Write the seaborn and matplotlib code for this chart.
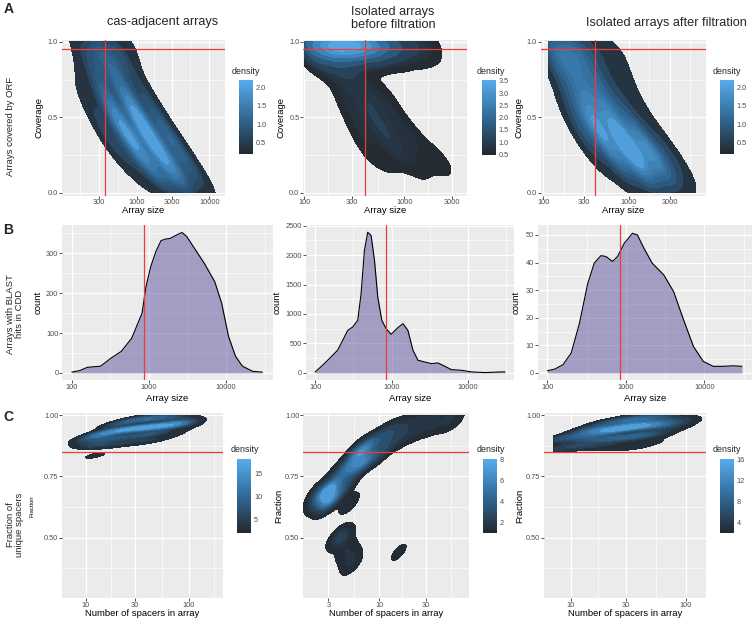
import numpy as np
import matplotlib
matplotlib.use("Agg")
import matplotlib.pyplot as plt
import matplotlib.colorbar as mcolorbar
from matplotlib.colors import LinearSegmentedColormap, Normalize
from matplotlib.ticker import FixedLocator, NullFormatter
import seaborn as sns

sns.set_theme(style="darkgrid")
plt.rcParams["font.family"] = ["Liberation Sans", "DejaVu Sans"]

# ---- row A: anchor points (log10 array size, coverage, weight)
a1_logsize = [2.22, 2.44, 2.67, 2.89, 2.27, 2.47, 2.67, 2.87, 2.27, 2.49, 2.73, 2.95,
              2.27, 2.54, 2.81, 3.08, 2.36, 2.63, 2.92, 3.19, 2.47, 2.74, 3.03, 3.30,
              2.60, 2.88, 3.16, 3.44, 2.73, 3.01, 3.30, 3.58, 2.92, 3.19, 3.46, 3.73,
              3.11, 3.36, 3.61, 3.86, 3.34, 3.56, 3.78, 4.00]
a1_cov = [0.98] * 4 + [0.88] * 4 + [0.78] * 4 + [0.68] * 4 + [0.58] * 4 + [0.48] * 4 + \
         [0.38] * 4 + [0.28] * 4 + [0.18] * 4 + [0.09] * 4 + [0.02] * 4
a1_w = [0.6, 1.0, 0.9, 0.5, 0.4, 0.7, 0.7, 0.4, 0.4, 0.7, 0.8, 0.4,
        0.35, 0.8, 0.9, 0.5, 0.4, 1.0, 1.3, 0.6, 0.5, 1.4, 1.6, 0.8,
        0.6, 1.5, 1.7, 0.9, 0.6, 1.4, 1.6, 0.9, 0.5, 1.2, 1.3, 0.7,
        0.4, 0.9, 0.9, 0.5, 0.2, 0.5, 0.5, 0.3]

a2_logsize = [2.05, 2.2, 2.35, 2.5, 2.65, 2.8, 2.95, 3.1, 3.25,
              2.1, 2.3, 2.5, 2.7, 2.9, 3.1, 3.25,
              2.2, 2.4,
              2.38, 2.55, 2.42, 2.6, 2.76, 2.48, 2.66, 2.85, 2.55, 2.75, 2.95,
              2.62, 2.85, 3.08, 2.7, 2.97, 3.25, 2.85, 3.15, 3.4]
a2_cov = [0.985] * 9 + [0.92] * 7 + [0.85] * 2 + [0.75] * 2 + [0.65] * 3 + [0.55] * 3 + \
         [0.45] * 3 + [0.35] * 3 + [0.25] * 3 + [0.17] * 3
a2_w = [1.8, 2.8, 3.4, 3.4, 2.8, 1.8, 1.0, 0.5, 0.3,
        0.8, 1.0, 0.9, 0.6, 0.4, 0.25, 0.15,
        0.45, 0.45,
        0.35, 0.35, 0.3, 0.4, 0.3, 0.3, 0.45, 0.3, 0.3, 0.5, 0.35,
        0.3, 0.5, 0.35, 0.22, 0.45, 0.3, 0.15, 0.3, 0.2]

a3_logsize = [2.12, 2.32, 2.52, 2.72, 2.90, 2.12, 2.32, 2.52, 2.72, 2.92,
              2.20, 2.40, 2.60, 2.80, 3.00, 2.27, 2.47, 2.67, 2.87, 3.07,
              2.32, 2.52, 2.72, 2.92, 3.12, 2.38, 2.58, 2.80, 3.00, 3.20,
              2.47, 2.68, 2.90, 3.12, 3.33, 2.58, 2.80, 3.02, 3.24, 3.45,
              2.70, 2.92, 3.14, 3.36, 3.56, 2.95, 3.15, 3.35, 3.55, 3.72,
              3.05, 3.30, 3.55]
a3_cov = [0.98] * 5 + [0.88] * 5 + [0.78] * 5 + [0.68] * 5 + [0.58] * 5 + [0.48] * 5 + \
         [0.38] * 5 + [0.28] * 5 + [0.18] * 5 + [0.08] * 5 + [0.02] * 3
a3_w = [1.3, 1.4, 0.9, 0.4, 0.25, 0.9, 0.9, 0.6, 0.3, 0.2,
        0.6, 0.8, 0.7, 0.3, 0.2, 0.5, 0.9, 0.8, 0.4, 0.2,
        0.6, 1.1, 0.9, 0.5, 0.25, 0.6, 1.3, 1.1, 0.7, 0.3,
        0.6, 1.2, 1.4, 1.0, 0.4, 0.5, 1.1, 1.7, 1.3, 0.5,
        0.4, 0.9, 1.3, 1.1, 0.5, 0.3, 0.6, 0.8, 0.6, 0.3,
        0.2, 0.3, 0.2]

a_size_cut = [365, 405, 405]
a_cov_cut = 0.95

# ---- row B: count density of array size for arrays with BLAST hits
b1_size = [100, 127, 158, 236, 321, 437, 597, 813, 912, 1047, 1230, 1435, 1660, 1862,
           2138, 2512, 2692, 3090, 4027, 5212, 7112, 8750, 10740, 13213, 16255, 22130, 29512]
b1_count = [2, 6, 14, 17, 37, 54, 87, 150, 215, 265, 305, 332, 336, 337,
            343, 350, 352, 342, 308, 275, 229, 175, 92, 42, 17, 4, 2]

b2_size = [100, 125, 161, 196, 229, 266, 309, 360, 398, 440, 486, 538, 596, 658, 743,
           847, 984, 1205, 1403, 1629, 1897, 2208, 2698, 3304, 4036, 4943, 6039, 8166,
           11066, 16558, 27416, 30200]
b2_count = [17, 130, 271, 384, 553, 722, 779, 892, 1343, 2077, 2387, 2331, 1907, 1287, 892,
            751, 655, 768, 835, 722, 384, 214, 186, 158, 169, 113, 56, 45,
            17, 6, 17, 17]

b3_size = [100, 124, 158, 201, 256, 327, 396, 481, 556, 676, 783, 955, 1213, 1403,
           1698, 2163, 3048, 4055, 5433, 7261, 9705, 13002, 17378, 23227, 30200]
b3_count = [0.8, 1.4, 3, 7.2, 18, 32.5, 39.8, 42.5, 42.2, 40.4, 42.2, 47, 50.6, 50,
            45.2, 39.8, 35.5, 29.5, 19.3, 9.6, 4.2, 2.4, 2.4, 2.6, 2.4]

b_size_cut = 850

# ---- row C: anchor points (log10 number of spacers, fraction unique, weight)
c1_logn = [0.97, 0.97, 1.05, 1.05, 1.14, 1.14, 1.14, 1.24, 1.24, 1.24, 1.24,
           1.36, 1.36, 1.36, 1.36, 1.48, 1.48, 1.48, 1.48, 1.6, 1.6, 1.6, 1.6,
           1.72, 1.72, 1.72, 1.72, 1.84, 1.84, 1.84, 1.94, 1.94, 1.94, 2.03, 2.03, 1.09]
c1_frac = [0.885, 0.9, 0.88, 0.91, 0.88, 0.905, 0.925, 0.88, 0.905, 0.93, 0.955,
           0.885, 0.91, 0.94, 0.97, 0.89, 0.915, 0.945, 0.98, 0.895, 0.92, 0.95, 0.985,
           0.905, 0.93, 0.955, 0.99, 0.92, 0.96, 0.99, 0.94, 0.965, 0.985, 0.96, 0.975, 0.835]
c1_w = [0.35, 0.3, 0.5, 0.7, 0.5, 0.6, 0.9, 0.4, 0.6, 1.1, 0.5,
        0.35, 0.6, 1.4, 0.7, 0.3, 0.6, 1.6, 0.8, 0.3, 0.6, 1.7, 0.9,
        0.3, 0.6, 1.6, 0.9, 0.25, 1.3, 0.8, 0.2, 0.9, 0.5, 0.25, 0.3, 0.3]

c2_logn = [0.38, 0.38, 0.47, 0.47, 0.56, 0.56, 0.58, 0.69, 0.67, 0.67, 0.76, 0.76,
           0.86, 0.86, 0.98, 0.98, 1.1, 1.1, 1.25, 1.25, 1.4, 1.4, 1.55, 1.55, 1.7, 1.7, 1.8,
           0.58, 0.63, 0.66, 0.70, 0.72, 1.2]
c2_frac = [0.655, 0.685, 0.65, 0.69, 0.67, 0.72, 0.77, 0.64, 0.72, 0.78, 0.79, 0.84,
           0.815, 0.865, 0.84, 0.90, 0.88, 0.925, 0.91, 0.955, 0.935, 0.975, 0.955, 0.99, 0.97, 0.99, 0.98,
           0.505, 0.495, 0.45, 0.42, 0.39, 0.44]
c2_w = [0.5, 0.5, 1.3, 1.3, 0.6, 0.6, 0.35, 0.2, 0.45, 0.7, 0.8, 1.0,
        1.0, 1.0, 0.5, 0.5, 0.4, 0.55, 0.25, 0.3, 0.2, 0.25, 0.18, 0.2, 0.15, 0.15, 0.1,
        0.3, 0.3, 0.2, 0.2, 0.18, 0.12]

c3_logn = [0.88, 0.88, 1.0, 1.0, 1.12, 1.12, 1.12, 1.24, 1.24, 1.24, 1.24,
           1.36, 1.36, 1.36, 1.36, 1.48, 1.48, 1.48, 1.48, 1.6, 1.6, 1.6, 1.6,
           1.72, 1.72, 1.72, 1.72, 1.84, 1.84, 1.84, 1.96, 1.96, 2.06]
c3_frac = [0.865, 0.9, 0.87, 0.91, 0.875, 0.905, 0.935, 0.875, 0.905, 0.935, 0.96,
           0.87, 0.905, 0.94, 0.97, 0.87, 0.91, 0.95, 0.98, 0.875, 0.915, 0.955, 0.985,
           0.89, 0.925, 0.96, 0.99, 0.92, 0.96, 0.99, 0.95, 0.98, 0.975]
c3_w = [0.5, 0.6, 0.5, 0.8, 0.45, 0.8, 0.9, 0.4, 0.8, 1.2, 0.5,
        0.35, 0.8, 1.5, 0.7, 0.3, 0.8, 1.6, 0.8, 0.3, 0.8, 1.5, 0.9,
        0.25, 0.7, 1.2, 0.8, 0.2, 0.9, 0.6, 0.3, 0.5, 0.2]

c_frac_cut = 0.85

W, H = 753, 621
fig = plt.figure(figsize=(W / 100, H / 100), dpi=100)
dens_cmap = LinearSegmentedColormap.from_list("dens", ["#23272d", "#306a98", "#58acec"])
RED = "#EE3B35"
TXT = 6.8
TICK = 5.3


def box(x0, y0, x1, y1):
    return [x0 / W, 1 - y1 / H, (x1 - x0) / W, (y1 - y0) / H]


def minor_breaks(b, lo, hi):
    b = list(b)
    bd = b[1] - b[0]
    if lo < b[0]:
        b = [b[0] - bd] + b
    if hi > b[-1]:
        b = b + [b[-1] + bd]
    mids = [(p + q) / 2 for p, q in zip(b[:-1], b[1:])]
    return [m for m in mids if lo <= m <= hi]


def style(ax, xlim, xt, yl, yt, ytl):
    ax.set_facecolor("#EBEBEB")
    for s in ax.spines.values():
        s.set_visible(False)
    ax.set_xscale("log")
    ax.set_xlim(10 ** xlim[0], 10 ** xlim[1])
    ax.set_ylim(*yl)
    ax.xaxis.set_major_locator(FixedLocator(xt))
    ax.set_xticklabels([str(v) for v in xt])
    ax.xaxis.set_minor_locator(FixedLocator([10 ** m for m in minor_breaks(np.log10(xt), *xlim)]))
    ax.xaxis.set_minor_formatter(NullFormatter())
    ax.yaxis.set_major_locator(FixedLocator(yt))
    ax.set_yticklabels(ytl)
    ax.yaxis.set_minor_locator(FixedLocator(minor_breaks(yt, *yl)))
    ax.grid(True, which="major", color="white", lw=0.9)
    ax.grid(True, which="minor", color="white", lw=0.45)
    ax.tick_params(which="major", length=2, width=0.6, color="#333333",
                   labelsize=TICK, labelcolor="#4D4D4D", pad=0.8, bottom=True, left=True)
    ax.tick_params(which="minor", length=0)
    ax.set_axisbelow(True)


def labels(ax, px, xlab, ylab, ylab_x, xlab_y, ysize=TXT):
    x0, y0, x1, y1 = px
    ax.set_xlabel(xlab, fontsize=TXT, color="black")
    ax.set_ylabel(ylab, fontsize=ysize, color="black")
    ax.xaxis.set_label_coords(0.5, (y1 - xlab_y) / (y1 - y0))
    ax.yaxis.set_label_coords((ylab_x - x0) / (x1 - x0), 0.5)


def cbar(px, lo, hi, ticks, tl, title_x, title_y):
    cax = fig.add_axes(box(*px))
    cb = mcolorbar.Colorbar(cax, cmap=dens_cmap, norm=Normalize(lo, hi))
    cb.outline.set_visible(False)
    cb.set_ticks(ticks, labels=tl)
    cax.tick_params(axis="y", direction="in", length=2.5, width=0.6, color="white",
                    left=True, right=True, labelsize=TICK, labelcolor="#4D4D4D", pad=2)
    fig.text(title_x / W, 1 - title_y / H, "density", fontsize=6.4, ha="left", va="center")


def density(ax, logx, y, w, bw, clip_x, clip_y, thresh=0.03, levels=10):
    x = np.power(10.0, logx)
    sns.kdeplot(x=x, y=y, weights=w, fill=True, levels=levels, thresh=thresh,
                cmap=dens_cmap, bw_method=bw, log_scale=(True, False),
                clip=(clip_x, clip_y), gridsize=200, ax=ax)


# ---------------- row A
a_px = [(61.7, 40, 225, 195.5), (303.3, 40, 467.3, 195.5), (540.7, 40, 705.7, 195.5)]
a_xlim = [(1.956, 4.217), (1.99, 3.63), (1.97, 3.90)]
a_xt = [[300, 1000, 3000, 10000], [100, 300, 1000, 3000], [100, 300, 1000, 3000]]
a_data = [(a1_logsize, a1_cov, a1_w, (1.9, 4.3), 0.37),
          (a2_logsize, a2_cov, a2_w, (2.0, 3.7), 0.3),
          (a3_logsize, a3_cov, a3_w, (2.06, 4.0), 0.37)]
a_ylab_x = [43, 285.5, 523]
for i in range(3):
    ax = fig.add_axes(box(*a_px[i]))
    x, y, w, cx, bw = a_data[i]
    density(ax, x, y, w, bw, cx, (0.0, 1.0))
    ax.axvline(a_size_cut[i], color=RED, lw=0.9, zorder=3)
    ax.axhline(a_cov_cut, color=RED, lw=0.9, zorder=3)
    style(ax, a_xlim[i], a_xt[i], (-0.019, 1.013), [0, 0.5, 1.0], ["0.0", "0.5", "1.0"])
    labels(ax, a_px[i], "Array size", "Coverage", a_ylab_x[i], 205.5)

cbar((239.3, 80, 253.3, 154), 0.19, 2.2, [0.5, 1.0, 1.5, 2.0], ["0.5", "1.0", "1.5", "2.0"], 231.7, 72)
cbar((481.7, 80, 495.7, 154.5), 0.5, 3.54, [0.5, 1.0, 1.5, 2.0, 2.5, 3.0, 3.5],
     ["0.5", "1.0", "1.5", "2.0", "2.5", "3.0", "3.5"], 476.7, 72)
cbar((720, 80, 734, 154), 0.19, 2.2, [0.5, 1.0, 1.5, 2.0], ["0.5", "1.0", "1.5", "2.0"], 713, 71)

# ---------------- row B
b_px = [(62.3, 225, 272.7, 380), (305.7, 225, 514.4, 380), (537.7, 225, 751.7, 380)]
b_data = [(b1_size, b1_count), (b2_size, b2_count), (b3_size, b3_count)]
b_ylim = [(-17.7, 371), (-120, 2510), (-2.55, 53.6)]
b_yt = [[0, 100, 200, 300], [0, 500, 1000, 1500, 2000, 2500], [0, 10, 20, 30, 40, 50]]
b_ylab_x = [43, 282, 521]
for i in range(3):
    ax = fig.add_axes(box(*b_px[i]))
    ax.set_xscale("log")
    x, y = b_data[i]
    ax.fill_between(x, y, color="#5B539D", alpha=0.5, lw=0, zorder=2)
    sns.lineplot(x=x, y=y, ax=ax, color="black", lw=0.8, estimator=None, sort=False, zorder=3)
    ax.axvline(b_size_cut, color=RED, lw=0.9, zorder=4)
    style(ax, (1.876, 4.604), [100, 1000, 10000], b_ylim[i], b_yt[i], [str(v) for v in b_yt[i]])
    labels(ax, b_px[i], "Array size", "count", b_ylab_x[i], 394)

# ---------------- row C
c_px = [(62.3, 413.3, 222.7, 598.3), (303.3, 413.3, 469.3, 598.3), (544.3, 413.3, 705.7, 598.3)]
c_xlim = [(0.77, 2.327), (0.22, 1.925), (0.768, 2.171)]
c_xt = [[10, 30, 100], [3, 10, 30], [10, 30, 100]]
c_data = [(c1_logn, c1_frac, c1_w, (0.5, 2.5), 0.34), (c2_logn, c2_frac, c2_w, (0.2, 2.0), 0.22),
          (c3_logn, c3_frac, c3_w, (0.844, 2.3), 0.38)]
c_ylab_x = [34, 283, 524]
for i in range(3):
    ax = fig.add_axes(box(*c_px[i]))
    x, y, w, cx, bw = c_data[i]
    density(ax, x, y, w, bw, cx, (0.3, 1.0))
    ax.axhline(c_frac_cut, color=RED, lw=0.9, zorder=3)
    style(ax, c_xlim[i], c_xt[i], (0.2525, 1.007), [0.5, 0.75, 1.0], ["0.50", "0.75", "1.00"])
    labels(ax, c_px[i], "Number of spacers in array", "Fraction", c_ylab_x[i], 609,
           ysize=4.2 if i == 0 else TXT)

cbar((237.3, 459, 251.3, 533), 2.17, 18.26, [5, 10, 15], ["5", "10", "15"], 231, 449)
cbar((483.3, 459, 497.3, 533), 1.06, 8.0, [2, 4, 6, 8], ["2", "4", "6", "8"], 476.7, 449)
cbar((720, 459, 734, 533), 2.1, 16.0, [4, 8, 12, 16], ["4", "8", "12", "16"], 712.7, 449)

# ---------------- titles, panel letters, row labels
fig.text(163 / W, 1 - 21.7 / H, "cas-adjacent arrays", fontsize=9.2, ha="center", va="center")
fig.text(393 / W, 1 - 18.5 / H, "Isolated arrays\nbefore filtration", fontsize=9.2,
         ha="center", va="center", linespacing=1.05)
fig.text(666.7 / W, 1 - 22.7 / H, "Isolated arrays after filtration", fontsize=9.2,
         ha="center", va="center")
for letter, y in [("A", 9), ("B", 230), ("C", 417)]:
    fig.text(8.5 / W, 1 - y / H, letter, fontsize=10, fontweight="bold", ha="center", va="center")
fig.text(10.5 / W, 1 - 126 / H, "Arrays covered by ORF", fontsize=TXT, rotation=90,
         ha="center", va="center")
fig.text(15 / W, 1 - 314 / H, "Arrays with BLAST\nhits in CDD", fontsize=TXT, rotation=90,
         ha="center", va="center", linespacing=1.0)
fig.text(15 / W, 1 - 525 / H, "Fraction of\nunique spacers", fontsize=TXT, rotation=90,
         ha="center", va="center", linespacing=1.0)

fig.savefig("out.png", dpi=100)
